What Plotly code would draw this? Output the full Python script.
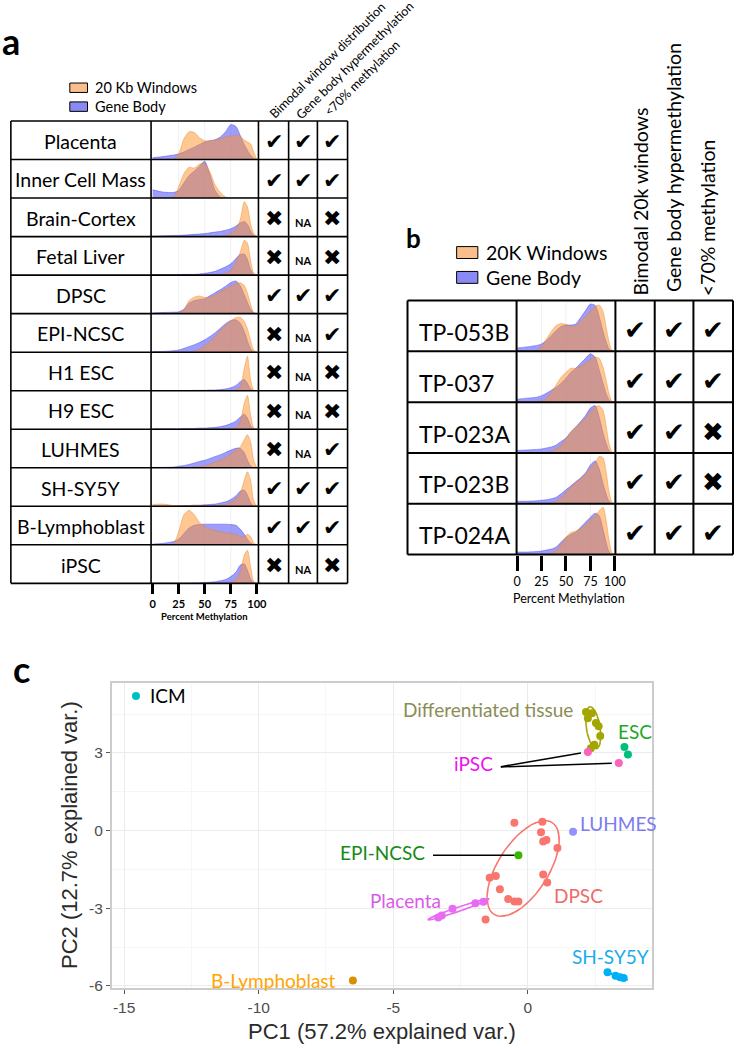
import numpy as np
import plotly.graph_objects as go

W, H = 744, 1050

# ---------------- data ----------------
PCT = [0, 10, 20, 25, 30, 35, 40, 45, 50, 55, 60, 65, 70, 75, 80, 84, 88, 91, 94, 97, 100]
TICKS_PCT = [0, 25, 50, 75, 100]

samples_a = ["Placenta", "Inner Cell Mass", "Brain-Cortex", "Fetal Liver", "DPSC", "EPI-NCSC",
             "H1 ESC", "H9 ESC", "LUHMES", "SH-SY5Y", "B-Lymphoblast", "iPSC"]
win_a = [
    [0, 0, 0.01, 0.15, 0.55, 0.74, 0.72, 0.58, 0.5, 0.5, 0.52, 0.55, 0.6, 0.63, 0.65, 0.62, 0.52, 0.47, 0.42, 0.2, 0],
    [0, 0, 0.02, 0.3, 0.65, 0.82, 0.8, 0.9, 0.93, 0.7, 0.35, 0.15, 0.03, 0, 0, 0, 0, 0, 0, 0, 0],
    [0, 0, 0, 0, 0, 0, 0, 0, 0, 0, 0, 0.01, 0.03, 0.08, 0.2, 0.44, 0.93, 0.79, 0.35, 0.09, 0],
    [0, 0, 0, 0, 0, 0, 0, 0, 0, 0, 0.01, 0.02, 0.05, 0.12, 0.35, 0.6, 0.93, 0.85, 0.4, 0.05, 0],
    [0, 0, 0, 0.02, 0.1, 0.35, 0.44, 0.47, 0.43, 0.44, 0.5, 0.58, 0.66, 0.73, 0.8, 0.82, 0.75, 0.55, 0.25, 0.03, 0],
    [0, 0, 0, 0, 0, 0, 0.02, 0.08, 0.17, 0.28, 0.42, 0.58, 0.72, 0.84, 0.92, 0.93, 0.82, 0.62, 0.32, 0.06, 0],
    [0, 0, 0, 0, 0, 0, 0, 0, 0, 0, 0, 0, 0, 0.01, 0.03, 0.1, 0.6, 0.92, 0.3, 0.02, 0],
    [0, 0, 0, 0, 0, 0, 0, 0, 0, 0, 0, 0, 0, 0.01, 0.04, 0.2, 0.7, 0.9, 0.4, 0.04, 0],
    [0, 0, 0, 0, 0, 0, 0.02, 0.03, 0.05, 0.1, 0.15, 0.2, 0.28, 0.37, 0.47, 0.55, 0.75, 0.88, 0.7, 0.2, 0],
    [0.05, 0.06, 0.02, 0.02, 0.02, 0.02, 0.02, 0.02, 0.02, 0.02, 0.02, 0.03, 0.05, 0.1, 0.2, 0.35, 0.7, 0.92, 0.7, 0.15, 0],
    [0, 0, 0.03, 0.35, 0.8, 0.92, 0.8, 0.6, 0.48, 0.42, 0.38, 0.35, 0.32, 0.3, 0.28, 0.22, 0.22, 0.28, 0.22, 0.05, 0],
    [0, 0, 0, 0, 0, 0, 0, 0, 0, 0, 0, 0, 0, 0.02, 0.1, 0.3, 0.75, 0.88, 0.45, 0.05, 0],
]
gene_a = [
    [0.05, 0.08, 0.12, 0.15, 0.2, 0.27, 0.33, 0.4, 0.47, 0.5, 0.53, 0.6, 0.74, 0.93, 0.88, 0.65, 0.4, 0.25, 0.12, 0.03, 0],
    [0.22, 0.16, 0.15, 0.2, 0.4, 0.6, 0.72, 0.85, 0.98, 0.62, 0.2, 0.03, 0, 0, 0, 0, 0, 0, 0, 0, 0],
    [0.01, 0.02, 0.03, 0.03, 0.04, 0.05, 0.06, 0.07, 0.08, 0.1, 0.12, 0.14, 0.17, 0.21, 0.28, 0.36, 0.4, 0.33, 0.15, 0.03, 0],
    [0.01, 0.01, 0.01, 0.01, 0.02, 0.02, 0.02, 0.03, 0.05, 0.07, 0.1, 0.16, 0.22, 0.3, 0.44, 0.55, 0.56, 0.42, 0.15, 0.02, 0],
    [0.02, 0.03, 0.04, 0.05, 0.12, 0.28, 0.35, 0.38, 0.4, 0.48, 0.56, 0.64, 0.73, 0.83, 0.87, 0.75, 0.5, 0.3, 0.12, 0.02, 0],
    [0.02, 0.02, 0.04, 0.06, 0.1, 0.15, 0.2, 0.26, 0.33, 0.42, 0.52, 0.64, 0.76, 0.84, 0.86, 0.78, 0.55, 0.3, 0.1, 0.01, 0],
    [0, 0, 0, 0, 0, 0, 0.01, 0.01, 0.01, 0.02, 0.02, 0.03, 0.05, 0.08, 0.14, 0.24, 0.3, 0.2, 0.05, 0, 0],
    [0.01, 0.01, 0.01, 0.01, 0.02, 0.02, 0.02, 0.03, 0.03, 0.04, 0.05, 0.07, 0.1, 0.15, 0.22, 0.32, 0.4, 0.3, 0.1, 0.01, 0],
    [0.01, 0.01, 0.02, 0.04, 0.06, 0.09, 0.13, 0.17, 0.2, 0.25, 0.3, 0.35, 0.41, 0.47, 0.52, 0.52, 0.4, 0.2, 0.05, 0, 0],
    [0.01, 0.01, 0.01, 0.01, 0.02, 0.02, 0.03, 0.03, 0.04, 0.05, 0.06, 0.09, 0.12, 0.18, 0.28, 0.4, 0.43, 0.3, 0.1, 0.01, 0],
    [0.02, 0.04, 0.09, 0.15, 0.3, 0.45, 0.52, 0.54, 0.55, 0.55, 0.55, 0.55, 0.55, 0.54, 0.52, 0.42, 0.28, 0.15, 0.05, 0.01, 0],
    [0, 0, 0, 0, 0, 0, 0.01, 0.01, 0.02, 0.03, 0.04, 0.07, 0.1, 0.18, 0.3, 0.48, 0.52, 0.35, 0.12, 0.01, 0],
]
bimodal_a = ["Y", "Y", "N", "N", "Y", "N", "N", "N", "N", "Y", "Y", "N"]
hyper_a = ["Y", "Y", "NA", "NA", "Y", "NA", "NA", "NA", "NA", "Y", "Y", "NA"]
low70_a = ["Y", "Y", "N", "N", "Y", "Y", "N", "N", "Y", "Y", "Y", "N"]
headers_a = ["Bimodal window distribution", "Gene body hypermethylation", "<70% methylation"]
legend_a = ["20 Kb Windows", "Gene Body"]

samples_b = ["TP-053B", "TP-037", "TP-023A", "TP-023B", "TP-024A"]
win_b = [
    [0, 0, 0.02, 0.1, 0.25, 0.4, 0.52, 0.56, 0.54, 0.5, 0.52, 0.6, 0.7, 0.8, 0.9, 0.93, 0.8, 0.5, 0.2, 0.02, 0],
    [0, 0, 0, 0.02, 0.08, 0.2, 0.35, 0.5, 0.6, 0.68, 0.68, 0.72, 0.78, 0.85, 0.9, 0.88, 0.7, 0.45, 0.18, 0.02, 0],
    [0, 0, 0, 0, 0.01, 0.03, 0.08, 0.16, 0.28, 0.42, 0.52, 0.6, 0.7, 0.82, 0.92, 0.95, 0.85, 0.55, 0.2, 0.03, 0],
    [0, 0, 0, 0, 0.01, 0.02, 0.05, 0.12, 0.22, 0.33, 0.42, 0.5, 0.6, 0.72, 0.82, 0.95, 0.92, 0.65, 0.25, 0.03, 0],
    [0, 0, 0, 0, 0.01, 0.03, 0.08, 0.2, 0.35, 0.44, 0.47, 0.52, 0.6, 0.7, 0.78, 0.88, 0.95, 0.7, 0.3, 0.04, 0],
]
gene_b = [
    [0.07, 0.09, 0.12, 0.15, 0.22, 0.32, 0.42, 0.5, 0.53, 0.53, 0.55, 0.68, 0.82, 0.95, 0.92, 0.7, 0.4, 0.2, 0.05, 0, 0],
    [0.06, 0.08, 0.1, 0.13, 0.18, 0.24, 0.3, 0.38, 0.48, 0.6, 0.68, 0.78, 0.88, 0.97, 0.9, 0.65, 0.38, 0.18, 0.05, 0, 0],
    [0.05, 0.06, 0.07, 0.08, 0.1, 0.12, 0.16, 0.23, 0.3, 0.42, 0.52, 0.63, 0.75, 0.9, 0.95, 0.72, 0.4, 0.2, 0.05, 0, 0],
    [0.05, 0.05, 0.06, 0.07, 0.08, 0.1, 0.13, 0.2, 0.28, 0.36, 0.44, 0.52, 0.62, 0.78, 0.86, 0.7, 0.4, 0.2, 0.05, 0, 0],
    [0.05, 0.05, 0.06, 0.07, 0.09, 0.11, 0.15, 0.25, 0.34, 0.4, 0.45, 0.55, 0.65, 0.75, 0.83, 0.78, 0.5, 0.25, 0.06, 0, 0],
]
bimodal_b = ["Y", "Y", "Y", "Y", "Y"]
hyper_b = ["Y", "Y", "Y", "Y", "Y"]
low70_b = ["Y", "Y", "N", "N", "Y"]
headers_b = ["Bimodal 20k windows", "Gene body hypermethylation", "<70% methylation"]
legend_b = ["20K Windows", "Gene Body"]

# PCA scores
icm_pc1, icm_pc2 = [-14.56], [5.2]
diff_pc1 = [2.16, 2.23, 2.38, 2.53, 2.63, 2.69, 2.47, 2.34]
diff_pc2 = [4.58, 4.34, 4.53, 4.16, 4.03, 3.65, 3.32, 3.18]
esc_pc1, esc_pc2 = [3.59, 3.72], [3.23, 2.94]
ipsc_pc1, ipsc_pc2 = [2.23, 3.38], [3.04, 2.61]
luhmes_pc1, luhmes_pc2 = [1.68], [-0.04]
epi_pc1, epi_pc2 = [-0.35], [-0.95]
dpsc_pc1 = [-0.5, 0.54, 0.49, 0.57, 0.69, 1.1, 0.57, 0.72, -1.42, -1.19, -1.04, -0.73, -0.5, -0.35, -1.57]
dpsc_pc2 = [0.3, 0.34, -0.06, -0.42, -0.36, -0.67, -1.69, -2.0, -1.82, -1.75, -2.26, -2.64, -2.74, -2.74, -3.43]
plac_pc1 = [-3.33, -3.2, -2.8, -1.95, -1.65]
plac_pc2 = [-3.35, -3.28, -3.02, -2.8, -2.75]
shsy_pc1 = [2.96, 3.26, 3.43, 3.56]
shsy_pc2 = [-5.47, -5.6, -5.66, -5.69]
blym_pc1, blym_pc2 = [-6.5], [-5.79]

# ---------------- helpers ----------------
def px(x):
    return x / W


def py(y):
    return 1 - y / H


ORANGE_FILL = "rgba(255,145,40,0.5)"
ORANGE_LINE = "rgba(230,130,40,0.6)"
BLUE_FILL = "rgba(60,60,250,0.5)"
BLUE_LINE = "rgba(60,60,230,0.6)"
LEG_ORANGE = "#F9BE8C"
LEG_BLUE = "#8A8AF5"
FONT = "Lato"
MARK = {"Y": "\u2714", "N": "\u2716", "NA": "NA"}

fig = go.Figure()
lay = dict(width=W, height=H, margin=dict(l=0, r=0, t=0, b=0), paper_bgcolor="white",
           plot_bgcolor="white", showlegend=False)
shapes = []
ann = []
axis_counter = [2]


def hide_axis():
    return dict(showgrid=False, zeroline=False, showline=False, ticks="", showticklabels=False,
                fixedrange=True)


def add_density(win, gene, x0, x1, ytop, ybot, xr, bottom_axis=None):
    i = axis_counter[0]
    axis_counter[0] += 1
    xa, ya = f"x{i}", f"y{i}"
    xd = hide_axis()
    xd.update(domain=[px(x0), px(x1)], range=xr, anchor=ya)
    if bottom_axis:
        xd.update(bottom_axis)
    yd = hide_axis()
    yd.update(domain=[py(ybot), py(ytop)], range=[0, 1.0], anchor=xa)
    lay[f"xaxis{i}"] = xd
    lay[f"yaxis{i}"] = yd
    for v in (25, 50, 75):
        shapes.append(dict(type="line", xref=xa, yref=f"{ya} domain", x0=v, x1=v, y0=0, y1=1,
                           line=dict(color="#F0F0F0", width=1), layer="below"))
    fig.add_trace(go.Scatter(x=PCT, y=gene, xaxis=xa, yaxis=ya, mode="lines",
                             line=dict(width=0.7, color=BLUE_LINE, shape="spline", smoothing=0.7),
                             fill="tozeroy", fillcolor=BLUE_FILL, hoverinfo="skip"))
    fig.add_trace(go.Scatter(x=PCT, y=win, xaxis=xa, yaxis=ya, mode="lines",
                             line=dict(width=0.7, color=ORANGE_LINE, shape="spline", smoothing=0.7),
                             fill="tozeroy", fillcolor=ORANGE_FILL, hoverinfo="skip"))


def hline(x0, x1, y, w):
    shapes.append(dict(type="line", xref="paper", yref="paper", x0=px(x0), x1=px(x1), y0=py(y), y1=py(y),
                       line=dict(color="black", width=w)))


def vline(x, y0, y1, w):
    shapes.append(dict(type="line", xref="paper", yref="paper", x0=px(x), x1=px(x), y0=py(y0), y1=py(y1),
                       line=dict(color="black", width=w)))


def text(x, y, s, size, color="black", xanchor="center", yanchor="middle", angle=0, family=FONT,
         weight="normal"):
    ann.append(dict(x=px(x), y=py(y), xref="paper", yref="paper", text=s, showarrow=False,
                    xanchor=xanchor, yanchor=yanchor, textangle=angle,
                    font=dict(family=family, size=size, color=color, weight=weight)))


def rect(x0, y0, x1, y1, color):
    shapes.append(dict(type="rect", xref="paper", yref="paper", x0=px(x0), x1=px(x1), y0=py(y1), y1=py(y0),
                       fillcolor=color, line=dict(color="black", width=1)))


# ---------------- panel a ----------------
A_COLS = [8, 150.7, 260, 290.7, 320, 350.7]
A_TOP, A_ROWH = 121.7, 38.75
NA_ROWS = len(samples_a)
A_BOT = A_TOP + NA_ROWS * A_ROWH
crit_a = [bimodal_a, hyper_a, low70_a]
for r, name in enumerate(samples_a):
    top = A_TOP + r * A_ROWH
    bot = top + A_ROWH
    cy = (top + bot) / 2
    bottom_axis = None
    if r == NA_ROWS - 1:
        bottom_axis = dict(tickmode="array", tickvals=TICKS_PCT, ticktext=[str(t) for t in TICKS_PCT],
                           ticks="outside", ticklen=10, tickwidth=2.5, tickcolor="black",
                           showticklabels=True,
                           tickfont=dict(family=FONT, size=11, color="black", weight="bold"))
    add_density(win_a[r], gene_a[r], 151, 259.5, top + 1, bot, [-1.2, 101.1], bottom_axis)
    text((A_COLS[0] + A_COLS[1]) / 2, cy + 1, name, 19.5)
    for c in range(3):
        cx = (A_COLS[2 + c] + A_COLS[3 + c]) / 2
        v = crit_a[c][r]
        if v == "NA":
            text(cx, cy + 5, "<b>NA</b>", 11)
        else:
            text(cx, cy + 1.5, MARK[v], 22, family="DejaVu Sans")
for r in range(NA_ROWS + 1):
    hline(A_COLS[0], A_COLS[-1], A_TOP + r * A_ROWH, 1.6)
for x in A_COLS:
    vline(x, A_TOP, A_BOT, 1.6)
text(205, 620, "Percent Methylation", 9.5, weight="bold")
rect(68, 83.5, 86, 93, LEG_ORANGE)
rect(68, 102.5, 86, 112, LEG_BLUE)
text(92, 88, legend_a[0], 14.5, xanchor="left")
text(92, 107, legend_a[1], 14.5, xanchor="left")
hdr_a_pos = [(330, 61), (358, 61), (365, 79)]
for s, (hx, hy) in zip(headers_a, hdr_a_pos):
    text(hx, hy, s, 12.5, angle=-45)
text(8, 41, "a", 36, weight="bold")

# ---------------- panel b ----------------
B_COLS = [411.7, 522.7, 623.3, 663.3, 702.7, 743.0]
B_TOP, B_ROWH = 302.3, 51.08
NB_ROWS = len(samples_b)
B_BOT = B_TOP + NB_ROWS * B_ROWH
crit_b = [bimodal_b, hyper_b, low70_b]
for r, name in enumerate(samples_b):
    top = B_TOP + r * B_ROWH
    bot = top + B_ROWH
    cy = (top + bot) / 2
    bottom_axis = None
    if r == NB_ROWS - 1:
        bottom_axis = dict(tickmode="array", tickvals=TICKS_PCT, ticktext=[str(t) for t in TICKS_PCT],
                           ticks="outside", ticklen=15, tickwidth=3, tickcolor="black",
                           showticklabels=True,
                           tickfont=dict(family=FONT, size=12.5, color="black"))
    add_density(win_b[r], gene_b[r], 522.8, 623.2, top + 1, bot, [-0.5, 100.5], bottom_axis)
    text(421.5, cy + 6, name, 23, xanchor="left")
    for c in range(3):
        cx = (B_COLS[2 + c] + B_COLS[3 + c]) / 2
        v = crit_b[c][r]
        text(cx, cy + 4, MARK[v], 26, family="DejaVu Sans")
for r in range(NB_ROWS + 1):
    hline(B_COLS[0], B_COLS[-1], B_TOP + r * B_ROWH, 2)
for x in B_COLS:
    vline(x, B_TOP, B_BOT, 2)
text(575.8, 601.7, "Percent Methylation", 12.5)
rect(461.7, 248, 483.3, 260, LEG_ORANGE)
rect(461.7, 273, 483.3, 285, LEG_BLUE)
text(490, 254, legend_b[0], 19.5, xanchor="left")
text(490, 279, legend_b[1], 19.5, xanchor="left")
hdr_b_pos = [(649, 203), (682, 169), (717, 219)]
for s, (hx, hy) in zip(headers_b, hdr_b_pos):
    text(hx, hy, s, 19.5, angle=-90)
text(417.5, 239, "b", 26, weight="bold")

# ---------------- panel c ----------------
groups = [
    ("ICM", icm_pc1, icm_pc2, "#00BFC4"),
    ("Differentiated tissue", diff_pc1, diff_pc2, "#A3A500"),
    ("ESC", esc_pc1, esc_pc2, "#00BF7D"),
    ("iPSC", ipsc_pc1, ipsc_pc2, "#FF62BC"),
    ("LUHMES", luhmes_pc1, luhmes_pc2, "#9590FF"),
    ("EPI-NCSC", epi_pc1, epi_pc2, "#39B600"),
    ("DPSC", dpsc_pc1, dpsc_pc2, "#F8766D"),
    ("Placenta", plac_pc1, plac_pc2, "#E76BF3"),
    ("SH-SY5Y", shsy_pc1, shsy_pc2, "#00B0F6"),
    ("B-Lymphoblast", blym_pc1, blym_pc2, "#D89000"),
]
theta = np.concatenate([np.linspace(-np.pi, np.pi, 50), np.linspace(np.pi, -np.pi, 50)])
circle = np.column_stack([np.cos(theta), np.sin(theta)])
ed = np.sqrt(-2 * np.log(1 - 0.68))
for name, gx, gy, col in groups:
    if len(gx) >= 3:
        pts = np.column_stack([gx, gy])
        sigma = np.cov(pts, rowvar=False)
        R = np.linalg.cholesky(sigma).T
        ell = circle @ R * ed + pts.mean(axis=0)
        fig.add_trace(go.Scatter(x=ell[:, 0], y=ell[:, 1], mode="lines", xaxis="x", yaxis="y",
                                 line=dict(color=col, width=1.5), hoverinfo="skip"))
for name, gx, gy, col in groups:
    fig.add_trace(go.Scatter(x=gx, y=gy, mode="markers", xaxis="x", yaxis="y", name=name,
                             marker=dict(color=col, size=8)))

grid_major = "#EBEBEB"
grid_minor = "#F6F6F6"
tickfont_c = dict(family="Liberation Sans", size=15.5, color="#4D4D4D")
lay["xaxis"] = dict(domain=[px(110.7), px(661)], range=[-15.46, 4.63], anchor="y",
                    tickmode="array", tickvals=[-15, -10, -5, 0], ticktext=["-15", "-10", "-5", "0"],
                    showgrid=True, gridcolor=grid_major, gridwidth=1,
                    minor=dict(tickmode="array", tickvals=[-12.5, -7.5, -2.5, 2.5], showgrid=True,
                               gridcolor=grid_minor, gridwidth=1),
                    ticks="outside", ticklen=4, tickwidth=1, tickcolor="#555555", tickfont=tickfont_c,
                    showline=True, mirror=True, linecolor="#CCCCCC", linewidth=1.8, zeroline=False,
                    fixedrange=True)
lay["yaxis"] = dict(domain=[py(994), py(686.7)], range=[-6.09, 5.71], anchor="x",
                    tickmode="array", tickvals=[-6, -3, 0, 3], ticktext=["-6", "-3", "0", "3"],
                    showgrid=True, gridcolor=grid_major, gridwidth=1,
                    minor=dict(tickmode="array", tickvals=[-4.5, -1.5, 1.5, 4.5], showgrid=True,
                               gridcolor=grid_minor, gridwidth=1),
                    ticks="outside", ticklen=4, tickwidth=1, tickcolor="#555555", tickfont=tickfont_c,
                    showline=True, mirror=True, linecolor="#CCCCCC", linewidth=1.8, zeroline=False,
                    fixedrange=True)


def dlabel(x, y, s, color, xanchor):
    ann.append(dict(x=x, y=y, xref="x", yref="y", text=s, showarrow=False, xanchor=xanchor,
                    yanchor="middle", font=dict(family=FONT, size=19, color=color)))


dlabel(-14.12, 5.2, "ICM", "black", "left")
dlabel(1.74, 4.69, "Differentiated tissue", "#8C8C55", "right")
dlabel(3.28, 3.84, "ESC", "#1FA81F", "left")
dlabel(-1.22, 2.6, "iPSC", "#F010F0", "right")
dlabel(1.86, 0.28, "LUHMES", "#7B7BF2", "left")
dlabel(-3.76, -0.85, "EPI-NCSC", "#168A16", "right")
dlabel(0.9, -2.51, "DPSC", "#F06A6A", "left")
dlabel(-3.15, -2.7, "Placenta", "#DA5AE8", "right")
dlabel(4.56, -4.86, "SH-SY5Y", "#1AACEB", "right")
dlabel(-7.04, -5.78, "B-Lymphoblast", "#FFA500", "right")

# leader lines from labels to points
for xi, yi in zip(ipsc_pc1, ipsc_pc2):
    ann.append(dict(x=xi, y=yi, xref="x", yref="y", ax=-1.06, ay=2.46, axref="x", ayref="y",
                    text="", showarrow=True, arrowhead=0, arrowwidth=1.5, arrowcolor="black",
                    standoff=7))
for xi, yi in zip(epi_pc1, epi_pc2):
    ann.append(dict(x=xi, y=yi, xref="x", yref="y", ax=-3.58, ay=yi, axref="x", ayref="y",
                    text="", showarrow=True, arrowhead=0, arrowwidth=1.5, arrowcolor="black",
                    standoff=4))

text(386, 1037, "PC1 (57.2% explained var.)", 22, color="#2B2B2B", family="Liberation Sans")
text(67, 840, "PC2 (12.7% explained var.)", 22, color="#2B2B2B", family="Liberation Sans", angle=-90)
text(19, 673, "c", 36, weight="bold")

lay["shapes"] = shapes
lay["annotations"] = ann
fig.update_layout(**lay)
fig.write_html("out.html", config={"displayModeBar": False},
               post_script="document.body.style.margin='0px';document.body.style.overflow='hidden';")
